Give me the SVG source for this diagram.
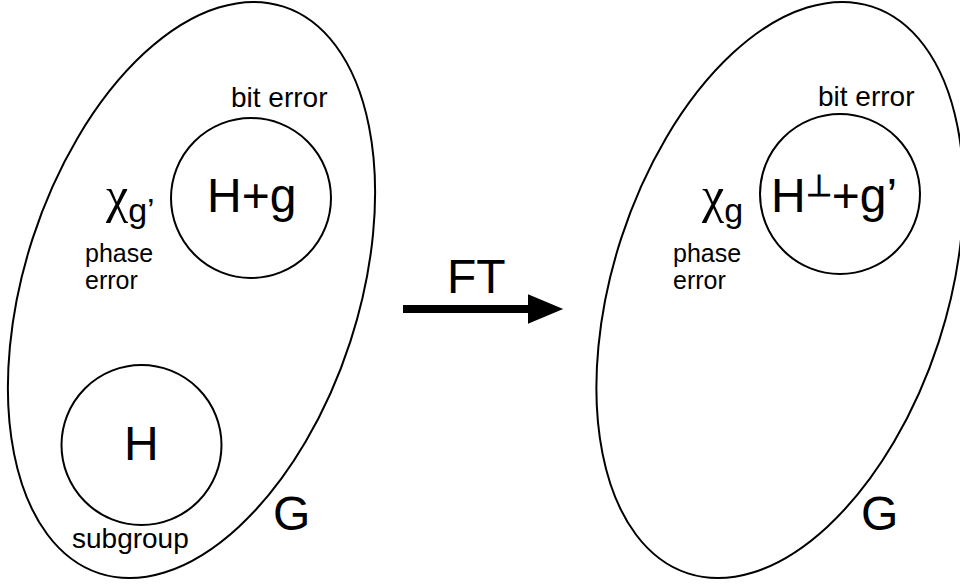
<svg xmlns="http://www.w3.org/2000/svg" width="960" height="584" viewBox="0 0 960 584">
<style>
.sh{fill:none;stroke:#000;stroke-width:2}
.t{font-family:"Liberation Sans",Arial,sans-serif;fill:#000}
.s{font-size:28px}
.p{font-size:25px}
.b{font-size:48px}
.chi{font-family:"Liberation Serif","Times New Roman",serif;font-size:50px}
</style>
<defs>
<marker id="ah" markerWidth="5" markerHeight="4" refX="0" refY="1.85" orient="auto" markerUnits="strokeWidth">
<path d="M0,0 L4.4,1.85 L0,3.7 Z" fill="#000"/>
</marker>
</defs>
<rect width="960" height="584" fill="#fff"/>
<g id="G-left">
<ellipse class="sh" cx="191.5" cy="290" rx="167" ry="298" transform="rotate(18 191.5 290)"/>
<text class="t b" x="273" y="530">G</text>
</g>
<g id="Hg">
<circle class="sh" cx="251" cy="198" r="80"/>
<text class="t b" x="207" y="212">H+g</text>
<text class="t s" x="231" y="107">bit error</text>
<text class="t" x="106" y="212"><tspan class="chi">χ</tspan><tspan dy="10" style="font-size:34px">g’</tspan></text>
<text class="t p" x="85" y="262">phase</text>
<text class="t p" x="85" y="289">error</text>
</g>
<g id="H">
<circle class="sh" cx="141.5" cy="445" r="80"/>
<text class="t b" x="124" y="460">H</text>
<text class="t s" x="72" y="548">subgroup</text>
</g>
<g id="connectors">
<line x1="403" y1="309" x2="528" y2="309" stroke="#000" stroke-width="8" marker-end="url(#ah)"/>
<text class="t b" x="447" y="293">FT</text>
</g>
<g id="G-right">
<ellipse class="sh" cx="780" cy="290" rx="167" ry="298" transform="rotate(18 780 290)"/>
<text class="t b" x="861" y="530">G</text>
</g>
<g id="Hperp">
<circle class="sh" cx="840" cy="194" r="80"/>
<text class="t b" x="771" y="212">H<tspan dy="-16" style="font-size:30px;font-weight:bold">⊥</tspan><tspan dy="16">+g’</tspan></text>
<text class="t s" x="818" y="106">bit error</text>
<text class="t" x="702" y="212"><tspan class="chi">χ</tspan><tspan dy="10" style="font-size:34px">g</tspan></text>
<text class="t p" x="673" y="262">phase</text>
<text class="t p" x="673" y="289">error</text>
</g>
</svg>
